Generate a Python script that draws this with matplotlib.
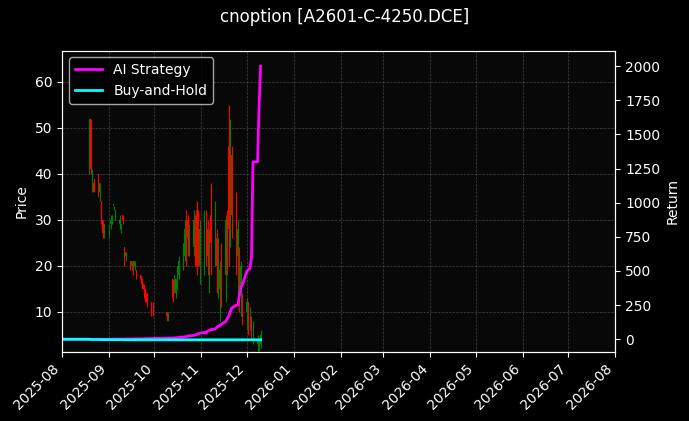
import matplotlib
matplotlib.use("Agg")
import matplotlib.pyplot as plt
import matplotlib.dates as mdates
import pandas as pd
import numpy as np

dates = [d for d in pd.bdate_range("2025-08-19", "2025-12-10")
         if not (pd.Timestamp("2025-10-01") <= d <= pd.Timestamp("2025-10-08"))]

opens = [45, 52, 40, 38, 40, 36, 34, 30,
         28, 27, 29, 30, 33, 31, 29, 28, 31, 24, 22, 21, 20, 21, 20, 19, 18, 17, 16, 15, 14, 12,
         12, 10, 9, 17, 15, 14, 16, 18, 20, 22, 28, 30, 25, 24, 29, 32, 30, 20,
         22, 30, 28, 18, 31, 25, 26, 20, 15, 22, 18, 30, 46, 28, 44, 30, 22, 20, 15, 12,
         10, 12, 9, 8, 6, 3, 2, 3]
closes = [52, 41, 40, 36, 36, 38, 30, 27,
          29, 29, 30, 31, 33, 32, 30, 29, 30, 21, 23, 20, 21, 19, 21, 18, 17, 16, 15, 14, 12, 11,
          10, 9, 10, 13, 18, 17, 20, 21, 23, 28, 24, 26, 28, 30, 25, 20, 26, 28,
          30, 24, 22, 26, 25, 32, 20, 24, 19, 15, 30, 22, 28, 50, 31, 20, 28, 14, 20, 9,
          12, 8, 10, 6, 7, 4, 3, 5]
highs = [52, 52, 41, 39, 40, 38, 34, 30,
         29, 29, 31, 31, 33, 32, 31, 29, 31, 24, 23, 21, 21, 21, 21, 19, 18, 17, 16, 15, 14, 12,
         12, 10, 10, 17, 18, 17, 20, 22, 25, 30, 32, 31, 29, 32, 31, 34, 32, 30,
         32, 32, 30, 28, 38, 34, 28, 26, 21, 25, 31, 32, 55, 52, 46, 36, 30, 24, 21, 14,
         13, 12, 11, 9, 8, 5, 4, 6]
lows = [40, 40, 36, 36, 35, 34, 29, 26,
        26, 26, 28, 29, 32, 30, 28, 27, 29, 20, 21, 19, 19, 18, 19, 17, 16, 15, 13, 12, 11, 9,
        9, 8, 8, 12, 14, 13, 15, 17, 19, 21, 20, 22, 22, 22, 20, 18, 20, 16,
        18, 20, 18, 14, 18, 20, 14, 13, 8, 11, 12, 18, 20, 24, 26, 18, 12, 10, 9, 7,
        6, 5, 6, 4, 3, 1.5, 1.5, 2]

ret_dates = [pd.Timestamp("2025-08-01")] + dates
ai_return = [0, 0, 0, 0, 0, 0, 0, 0, 0,
             0, 0, 0, 1, 1, 1, 1, 1, 1, 1, 2, 2, 2, 2, 3, 3, 3, 3, 4, 4, 5, 5,
             6, 7, 8, 9, 10, 11, 12, 14, 16, 18, 20, 22, 25, 28, 32, 36, 40, 45,
             50, 45, 60, 65, 70, 75, 85, 95, 100, 110, 130, 150, 170, 200, 230, 250, 250, 320, 380, 400,
             500, 510, 520, 600, 1300, 1300, 1700, 2000]
bh_return = [0, 0, -1, -2, -2, -2, -2, -3, -3,
             -3, -3, -3, -3, -3, -3, -3, -3, -3, -4, -4, -4, -4, -4, -4, -4, -4, -4, -4, -4, -4, -4,
             -4, -4, -4, -4, -4, -4, -4, -4, -4, -4, -4, -4, -4, -4, -4, -4, -4, -4,
             -4, -4, -4, -4, -4, -4, -4, -4, -4, -4, -4, -4, -4, -4, -4, -4, -4, -4, -4, -4,
             -4, -4, -4, -4, -4, -4, -4, -4]

plt.style.use("dark_background")
fig, ax = plt.subplots(figsize=(6.89, 4.21), dpi=100)
fig.subplots_adjust(left=0.09, right=0.893, top=0.88, bottom=0.165)
ax.set_facecolor("#080808")

dnum = mdates.date2num(dates)
for x, o, c, h, l in zip(dnum, opens, closes, highs, lows):
    col = "green" if c >= o else "red"
    ax.vlines(x, l, h, color=col, linewidth=0.8)
    ax.bar(x, abs(c - o) if c != o else 0.3, bottom=min(o, c), width=0.6, color=col)

ax.set_ylim(1.3, 66.8)
ax.set_ylabel("Price")
ax.set_xlim(mdates.date2num(pd.Timestamp("2025-08-01")), mdates.date2num(pd.Timestamp("2026-08-01")))
ax.xaxis.set_major_locator(mdates.MonthLocator())
ax.xaxis.set_major_formatter(mdates.DateFormatter("%Y-%m"))
plt.setp(ax.get_xticklabels(), rotation=45, ha="right")
ax.grid(True, color="gray", linestyle="--", linewidth=0.5, alpha=0.5)

ax2 = ax.twinx()
rnum = mdates.date2num(ret_dates)
l1, = ax2.plot(rnum, ai_return, color="magenta", linewidth=2, label="AI Strategy")
l2, = ax2.plot(rnum, bh_return, color="cyan", linewidth=2, label="Buy-and-Hold")
ax2.set_ylim(-90, 2115)
ax2.set_ylabel("Return")
ax2.legend(handles=[l1, l2], loc="upper left")

fig.suptitle("cnoption [A2601-C-4250.DCE]")
fig.savefig("out.png", facecolor="black")
